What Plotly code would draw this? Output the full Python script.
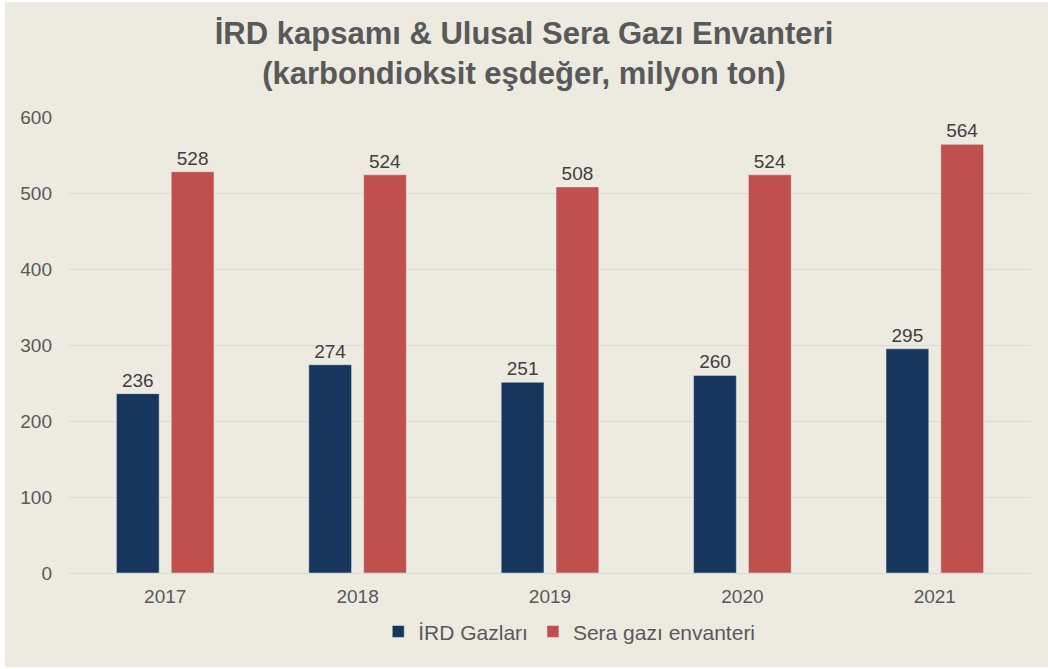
import plotly.graph_objects as go

years = ["2017", "2018", "2019", "2020", "2021"]
ird = [236, 274, 251, 260, 295]
sera = [528, 524, 508, 524, 564]
series_names = ["İRD Gazları", "Sera gazı envanteri"]
y_ticks = [0, 100, 200, 300, 400, 500, 600]

BG = "#EDEAE0"
TXT = "#595959"
fig = go.Figure()
fig.add_trace(go.Bar(x=years, y=ird, name=series_names[0], marker_color="#17365D",
                     text=ird, textposition="outside",
                     textfont=dict(size=19, color="#404040"), cliponaxis=False))
fig.add_trace(go.Bar(x=years, y=sera, name=series_names[1], marker_color="#C0504D",
                     text=sera, textposition="outside",
                     textfont=dict(size=19, color="#404040"), cliponaxis=False))

fig.update_layout(
    width=1048, height=669,
    paper_bgcolor="white", plot_bgcolor=BG,
    font=dict(family="Liberation Sans, Arial, sans-serif", color=TXT, size=19),
    title=dict(text="<b>İRD kapsamı & Ulusal Sera Gazı Envanteri<br>(karbondioksit eşdeğer, milyon ton)</b>",
               x=0.5, xanchor="center", y=0.934, yanchor="middle",
               font=dict(size=31, color=TXT)),
    margin=dict(l=69, r=17, t=117, b=96),
    barmode="group", bargap=0.43, bargroupgap=0.22,
    legend=dict(orientation="h", x=0.52, xanchor="center", y=-0.129, yanchor="middle",
                font=dict(size=21, color=TXT), bgcolor="rgba(0,0,0,0)",
                traceorder="normal"),
    xaxis=dict(showgrid=False, showline=False, ticks="", ticklabelstandoff=10,
               tickfont=dict(size=19, color=TXT)),
    yaxis=dict(range=[0, 600], tickvals=y_ticks, showgrid=True, gridcolor="#D9D9D9", gridwidth=1,
               zeroline=True, zerolinecolor="#D9D9D9", zerolinewidth=1,
               tickfont=dict(size=19, color=TXT), ticks="", ticklabelstandoff=16),
    shapes=[dict(type="rect", xref="paper", yref="paper", x0=-0.0665, x1=1.02,
                 y0=-0.206, y1=1.252,
                 fillcolor=BG, line_width=0, layer="below")],
)
fig.write_html("out.html", config={"displayModeBar": False},
               post_script="document.body.style.margin='0';document.body.style.overflow='hidden';")
